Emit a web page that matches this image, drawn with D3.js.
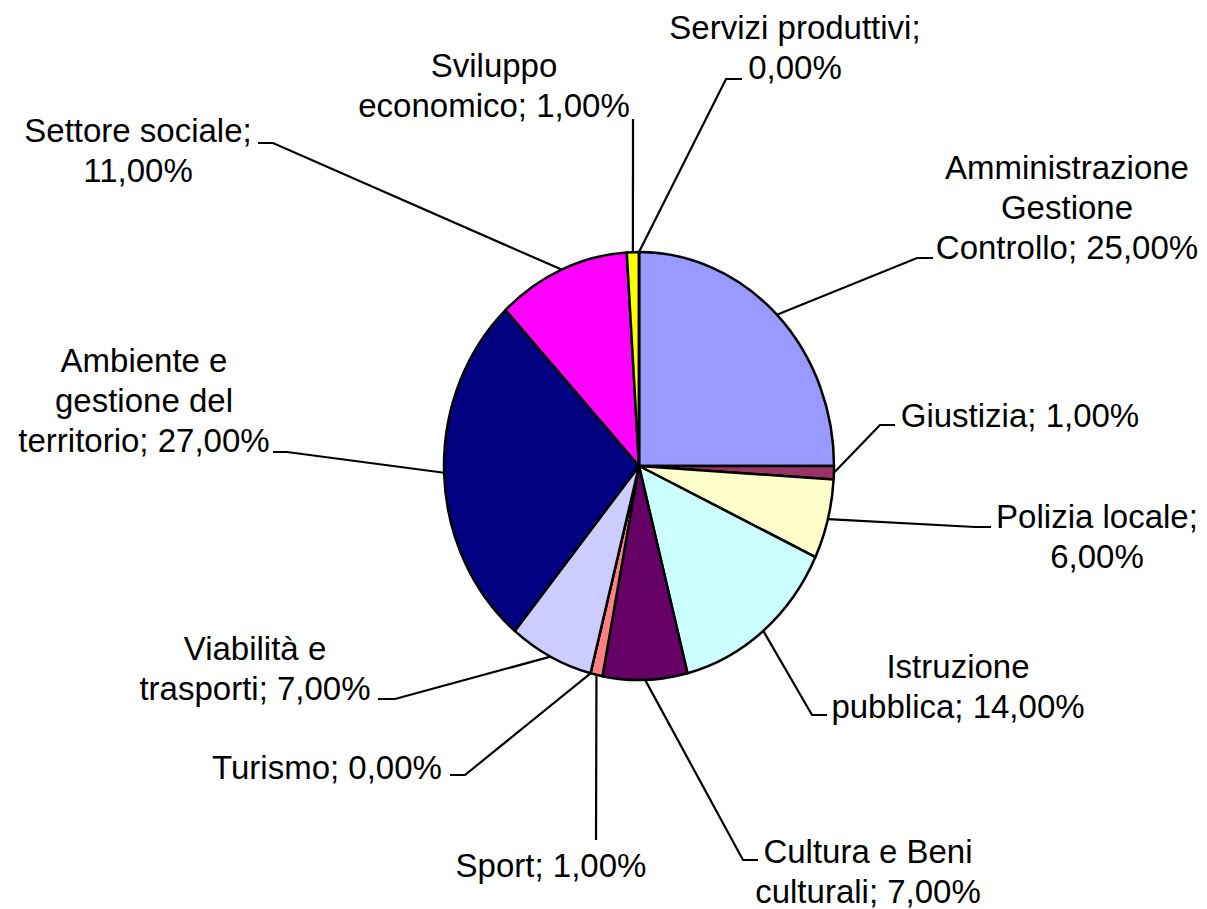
<!DOCTYPE html>
<html>
<head>
<meta charset="utf-8">
<script src="https://cdn.jsdelivr.net/npm/d3@7"></script>
<style>
	body { margin: 0; background: #fff; }
	text { font-family: "Liberation Sans", Arial, sans-serif; font-size: 33px; fill: #000; }
</style>
</head>
<body>
<script>

// Data (percentages, clockwise from 12 o'clock)
var categories = [
	"Amministrazione\nGestione\nControllo",
	"Giustizia",
	"Polizia locale",
	"Istruzione\npubblica",
	"Cultura e Beni\nculturali",
	"Sport",
	"Turismo",
	"Viabilità e\ntrasporti",
	"Ambiente e\ngestione del\nterritorio",
	"Settore sociale",
	"Sviluppo\neconomico",
	"Servizi produttivi"
];
var values = [25, 1, 6, 14, 7, 1, 0, 7, 27, 11, 1, 0];
var colors = ["#9999FF", "#993366", "#FFFFCC", "#CCFFFF", "#660066", "#FF8080",
	"#0066CC", "#CCCCFF", "#000080", "#FF00FF", "#FFFF00", "#00FFFF"];

// Label placement: centre x, first baseline, leader elbow and end, value on its own line
var labelLayout = [
	{x: 1067, y: 179, elbow: [917, 258], end: [933, 258], split: false},
	{x: 1020, y: 427, elbow: [880, 425], end: [895, 425], split: false},
	{x: 1097, y: 528, elbow: [975, 527], end: [991, 527], split: true},
	{x: 958,  y: 678, elbow: [812, 715], end: [827, 715], split: false},
	{x: 868,  y: 863, elbow: [743, 860], end: [758, 860], split: false},
	{x: 551,  y: 877, elbow: [596, 840], end: [596, 840], split: false},
	{x: 327,  y: 779, elbow: [465, 775], end: [450, 775], split: false},
	{x: 255,  y: 660, elbow: [395, 699], end: [378, 699], split: false},
	{x: 144,  y: 372, elbow: [287, 452], end: [273, 452], split: false},
	{x: 138,  y: 142, elbow: [273, 143], end: [258, 143], split: true},
	{x: 494,  y: 77,  elbow: [633, 119], end: [633, 119], split: false},
	{x: 795,  y: 39,  elbow: [726, 79],  end: [742, 79],  split: true}
];

var width = 1207,
	height = 909;
var cx = 639, cy = 466, rx = 195, ry = 214;
var lineHeight = 40;

var it = d3.formatLocale({decimal: ",", thousands: ".", grouping: [3], currency: ["€", ""]});
var fmt = it.format(".2f");

var data = categories.map(function(c, i) {
	return {name: c, value: values[i], color: colors[i], layout: labelLayout[i]};
});

var svg = d3.select("body").append("svg")
	.attr("width", width)
	.attr("height", height);

var pie = d3.pie()
	.sort(null)
	.value(function(d) { return d.value; });

var arc = d3.arc()
	.innerRadius(0)
	.outerRadius(rx);

var arcs = pie(data);

// the pie is drawn slightly taller than wide, as in the picture
var pieG = svg.append("g")
	.attr("transform", "translate(" + cx + "," + cy + ") scale(1," + (ry / rx) + ")");

pieG.selectAll("path")
	.data(arcs)
	.enter()
	.append("path")
	.attr("d", arc)
	.attr("fill", function(d) { return d.data.color; })
	.attr("stroke", "#000")
	.attr("stroke-width", 2.5)
	.attr("stroke-linejoin", "round")
	.attr("vector-effect", "non-scaling-stroke");

// leader lines from the middle of each slice's edge
var edgePoint = function(d) {
	var a = (d.startAngle + d.endAngle) / 2;
	return [cx + rx * Math.sin(a), cy - ry * Math.cos(a)];
};

svg.selectAll("polyline.leader")
	.data(arcs)
	.enter()
	.append("polyline")
	.attr("class", "leader")
	.attr("points", function(d) {
		var p = edgePoint(d);
		return [p, d.data.layout.elbow, d.data.layout.end].map(function(q) { return q.join(","); }).join(" ");
	})
	.attr("fill", "none")
	.attr("stroke", "#000")
	.attr("stroke-width", 2.2);

// labels: "name; value%" with the line breaks of the picture
var labels = svg.selectAll("text.label")
	.data(arcs)
	.enter()
	.append("text")
	.attr("class", "label")
	.attr("text-anchor", "middle");

labels.each(function(d) {
	var pct = fmt(d.data.value) + "%";
	var lines = d.data.name.split("\n");
	if (d.data.layout.split) {
		lines[lines.length - 1] += ";";
		lines.push(pct);
	} else {
		lines[lines.length - 1] += "; " + pct;
	}
	d3.select(this).selectAll("tspan")
		.data(lines)
		.enter()
		.append("tspan")
		.attr("x", d.data.layout.x)
		.attr("y", function(l, i) { return d.data.layout.y + i * lineHeight; })
		.text(function(l) { return l; });
});

</script>
</body>
</html>
